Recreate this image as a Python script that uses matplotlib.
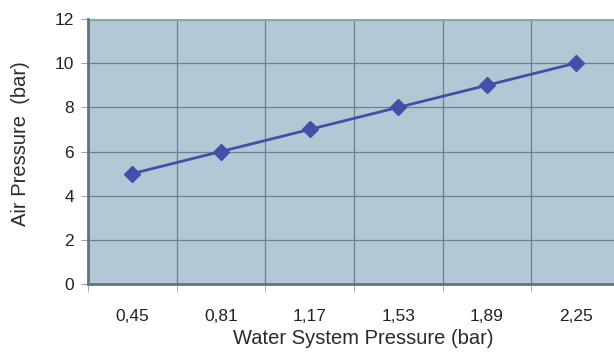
import numpy as np
import matplotlib.pyplot as plt
from matplotlib.ticker import FixedLocator

water_pressure = ["0,45", "0,81", "1,17", "1,53", "1,89", "2,25"]
air_pressure = [5, 6, 7, 8, 9, 10]
y_ticks = [0, 2, 4, 6, 8, 10, 12]

plt.rcParams['font.family'] = ['Liberation Sans', 'DejaVu Sans']

fig = plt.figure(figsize=(6.14, 3.52), dpi=100)
ax = fig.add_axes([88/614, 1 - 284/352, 532/614, 265/352])
ax.set_facecolor("#b3c8d5")

x = np.arange(len(water_pressure))
ax.plot(x, air_pressure, color="#3f51a8", lw=2, marker="D", ms=8,
        markerfacecolor="#3f51a8", markeredgecolor="#3f51a8", zorder=3)

ax.set_xlim(-0.5, len(water_pressure) - 0.5)
ax.set_ylim(0, 12)
ax.set_xticks(x)
ax.set_xticklabels(water_pressure)
ax.xaxis.set_minor_locator(FixedLocator(np.arange(-0.5, len(water_pressure), 1)))
ax.set_yticks(y_ticks)

ax.tick_params(axis="x", which="major", length=0, pad=18, labelsize=12.5, colors="#222222")
ax.tick_params(axis="x", which="minor", length=6, color="#9aa5aa")
ax.tick_params(axis="y", length=5, color="#9aa5aa", labelsize=12.5, colors="#222222", pad=5)

ax.grid(True, axis="y", color="#6e8088", lw=0.9)
ax.grid(True, axis="x", which="minor", color="#6e8088", lw=0.9)
ax.set_axisbelow(True)

for side in ["top", "right"]:
    ax.spines[side].set_visible(False)
ax.spines["left"].set_color("#5f747c")
ax.spines["left"].set_linewidth(2)
ax.spines["bottom"].set_color("#5f747c")
ax.spines["bottom"].set_linewidth(2)
ax.axhline(12, color="#8fa6b1", lw=2.5, zorder=2)

ax.set_xlabel("Water System Pressure (bar)", fontsize=14.5, color="#2a2a2a")
ax.set_ylabel("Air Pressure  (bar)", fontsize=14.5, color="#2a2a2a")
ax.xaxis.set_label_coords(0.518, -0.17)
ax.yaxis.set_label_coords(-0.109, 0.53)

fig.savefig("out.png", dpi=100)
